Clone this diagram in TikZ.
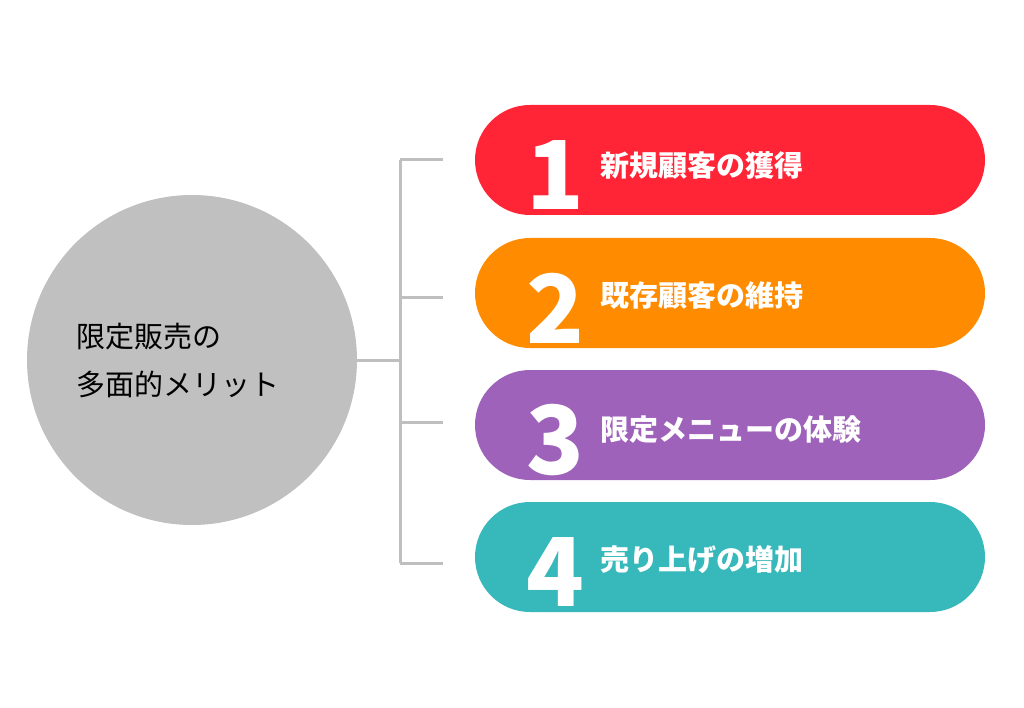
\documentclass[tikz,border=0pt]{standalone}
\usepackage{fontspec}
\setmainfont{Noto Sans CJK JP}
\usetikzlibrary{positioning}
\definecolor{cgray}{HTML}{C0C0C0}
\definecolor{lgray}{HTML}{BFBFBF}
\definecolor{cred}{HTML}{FF2436}
\definecolor{corange}{HTML}{FF8C00}
\definecolor{cpurple}{HTML}{9E62BA}
\definecolor{cteal}{HTML}{37B8BA}
\tikzset{
pill/.style = {rectangle, rounded corners=55pt, minimum width=510pt, minimum height=110pt, inner sep=0pt},
num/.style = {text=white, font=\fontsize{95}{95}\selectfont\bfseries, inner sep=0pt},
lbl/.style = {text=white, font=\fontsize{29}{34}\selectfont\bfseries, anchor=west, inner sep=0pt},
tick/.style = {draw=lgray, line width=3pt}
}
\begin{document}
\begin{tikzpicture}[x=1pt, y=-1pt]
\useasboundingbox (0,0) rectangle (1024,708);
% central circle
\node[circle, fill=cgray, minimum size=330pt, inner sep=0pt] (hub) at (192,360) {};
\node[align=left, anchor=west, font=\fontsize{29}{48}\selectfont] (hubtxt) at (73,361) {限定販売の\\多面的メリット};
% bracket
\coordinate (bk) at (400,360);
\coordinate (top) at (400,160);
\coordinate (bot) at (400,563);
\draw[tick] (hub.east) -- (bk);
\draw[tick] (top) -- (bot);
% items
\foreach \i/\y/\c/\t/\ty/\k in {1/160/cred/新規顧客の獲得/165/160, 2/293/corange/既存顧客の維持/296/297, 3/425/cpurple/限定メニューの体験/430/422, 4/557/cteal/売り上げの増加/560/563}{
  \node[pill, fill=\c] (item\i) at (730,\y) {};
  \node[num] (n\i) at (555,\y+15) {\i};
  \node[lbl] (t\i) at (600,\ty) {\t};
  \coordinate (tk\i) at (400,\k);
  \coordinate (te\i) at (443,\k);
  \draw[tick] (tk\i) -- (te\i);
}
\end{tikzpicture}
\end{document}
